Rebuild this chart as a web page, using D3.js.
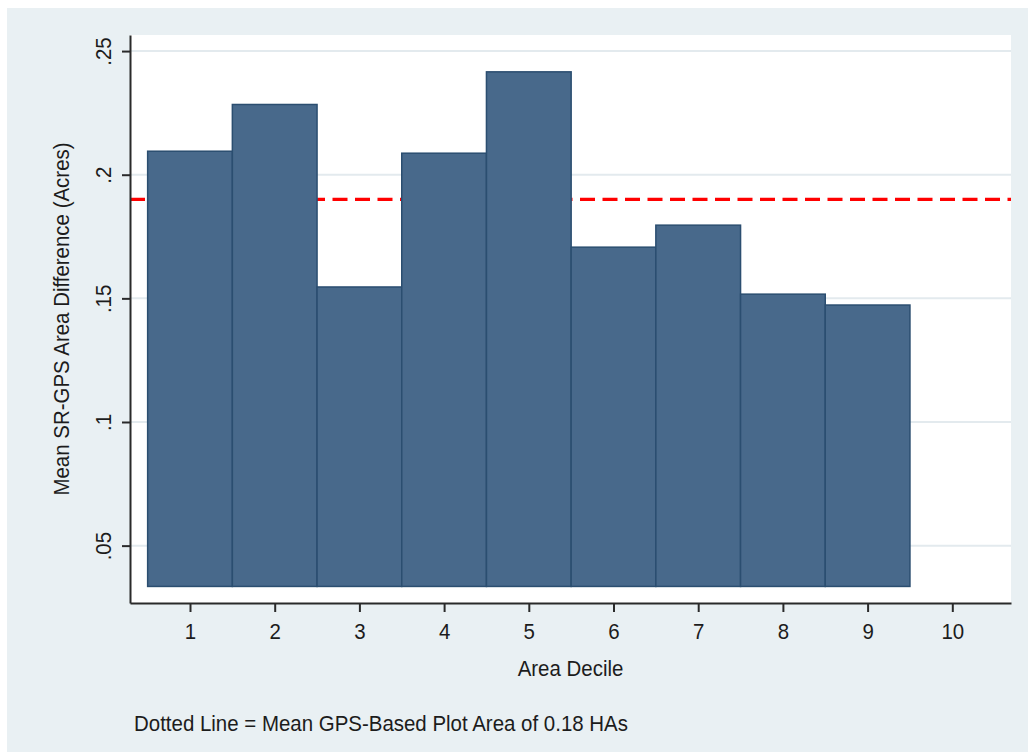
<!DOCTYPE html>
<html>
<head>
<meta charset="utf-8">
<script src="https://cdn.jsdelivr.net/npm/d3@7"></script>
<style>
  html, body { margin: 0; padding: 0; background: #ffffff; }
  svg { display: block; }
  text { font-family: "Liberation Sans", Arial, sans-serif; fill: #1c1c1c; }
</style>
</head>
<body>
<svg id="chart" width="1028" height="752"></svg>
<script>
// Mean self-reported minus GPS plot area, by area decile
const deciles = [1, 2, 3, 4, 5, 6, 7, 8, 9];
const meanDiff = [0.2095, 0.2284, 0.1546, 0.2087, 0.2416, 0.1707, 0.1796, 0.1517, 0.1473];
const barBase = 0.0335;
const meanLine = 0.19;

const xTicks = [1, 2, 3, 4, 5, 6, 7, 8, 9, 10];
const yTicks = [0.05, 0.1, 0.15, 0.2, 0.25];
const yTickLabels = [".05", ".1", ".15", ".2", ".25"];

const xTitle = "Area Decile";
const yTitle = "Mean SR-GPS Area Difference (Acres)";
const note = "Dotted Line = Mean GPS-Based Plot Area of 0.18 HAs";

const W = 1028, H = 752;
const plot = { left: 130, right: 1011, top: 35, bottom: 603 };
const fontSize = 22;
const squeeze = "scale(0.93,1)";

const svg = d3.select("#chart");

// outer graph region
svg.append("rect").attr("x", 7).attr("y", 8).attr("width", W - 7).attr("height", H - 8)
  .attr("fill", "#e9f0f3");

// plot region
svg.append("rect")
  .attr("x", plot.left).attr("y", plot.top)
  .attr("width", plot.right - plot.left).attr("height", plot.bottom - plot.top)
  .attr("fill", "#ffffff");

const x = d3.scaleLinear().domain([0.2916, 10.693]).range([plot.left, plot.right]);
const y = d3.scaleLinear().domain([0.0268, 0.2565]).range([plot.bottom, plot.top]);

// horizontal grid
svg.append("g").selectAll("line").data(yTicks).join("line")
  .attr("x1", plot.left).attr("x2", plot.right)
  .attr("y1", d => y(d)).attr("y2", d => y(d))
  .attr("stroke", "#e3eaee").attr("stroke-width", 2);

// reference line
svg.append("line")
  .attr("x1", plot.left).attr("x2", plot.right)
  .attr("y1", y(meanLine)).attr("y2", y(meanLine))
  .attr("stroke", "#ff0000").attr("stroke-width", 3.2)
  .attr("stroke-dasharray", "15 7.5");

// bars spanning each decile
svg.append("g").selectAll("rect").data(deciles).join("rect")
  .attr("x", (d) => x(d - 0.5))
  .attr("width", (d) => x(d + 0.5) - x(d - 0.5))
  .attr("y", (d, i) => y(meanDiff[i]))
  .attr("height", (d, i) => y(barBase) - y(meanDiff[i]))
  .attr("fill", "#48698b")
  .attr("stroke", "#2b4e70")
  .attr("stroke-width", 1.5);

// axes
const xAxis = svg.append("g")
  .attr("transform", `translate(0,${plot.bottom})`)
  .call(d3.axisBottom(x).tickValues(xTicks).tickSize(9).tickSizeOuter(0).tickFormat(d3.format("d")));

const yAxis = svg.append("g")
  .attr("transform", `translate(${plot.left},0)`)
  .call(d3.axisLeft(y).tickValues(yTicks).tickSize(8).tickSizeOuter(0)
    .tickFormat((d, i) => yTickLabels[i]));

[xAxis, yAxis].forEach(g => {
  g.select(".domain").attr("stroke", "#2a2a2a").attr("stroke-width", 2);
  g.selectAll(".tick line").attr("stroke", "#2a2a2a").attr("stroke-width", 2);
  g.selectAll(".tick text").attr("font-size", fontSize).attr("fill", "#1c1c1c")
    .attr("x", null).attr("y", null).attr("dy", null).attr("dx", null);
});

xAxis.selectAll(".tick text")
  .attr("text-anchor", "middle")
  .attr("transform", `translate(0,36) ${squeeze}`);

yAxis.selectAll(".tick text")
  .attr("text-anchor", "middle")
  .attr("transform", `translate(-19,0) rotate(-90) ${squeeze}`);

// titles
svg.append("text")
  .attr("text-anchor", "middle")
  .attr("font-size", fontSize)
  .attr("transform", `translate(${(plot.left + plot.right) / 2},676) ${squeeze}`)
  .text(xTitle);

svg.append("text")
  .attr("text-anchor", "middle")
  .attr("font-size", fontSize)
  .attr("transform", `translate(69,${(plot.top + plot.bottom) / 2}) rotate(-90) ${squeeze}`)
  .text(yTitle);

svg.append("text")
  .attr("text-anchor", "start")
  .attr("font-size", fontSize)
  .attr("transform", `translate(134,731) ${squeeze}`)
  .text(note);
</script>
</body>
</html>
